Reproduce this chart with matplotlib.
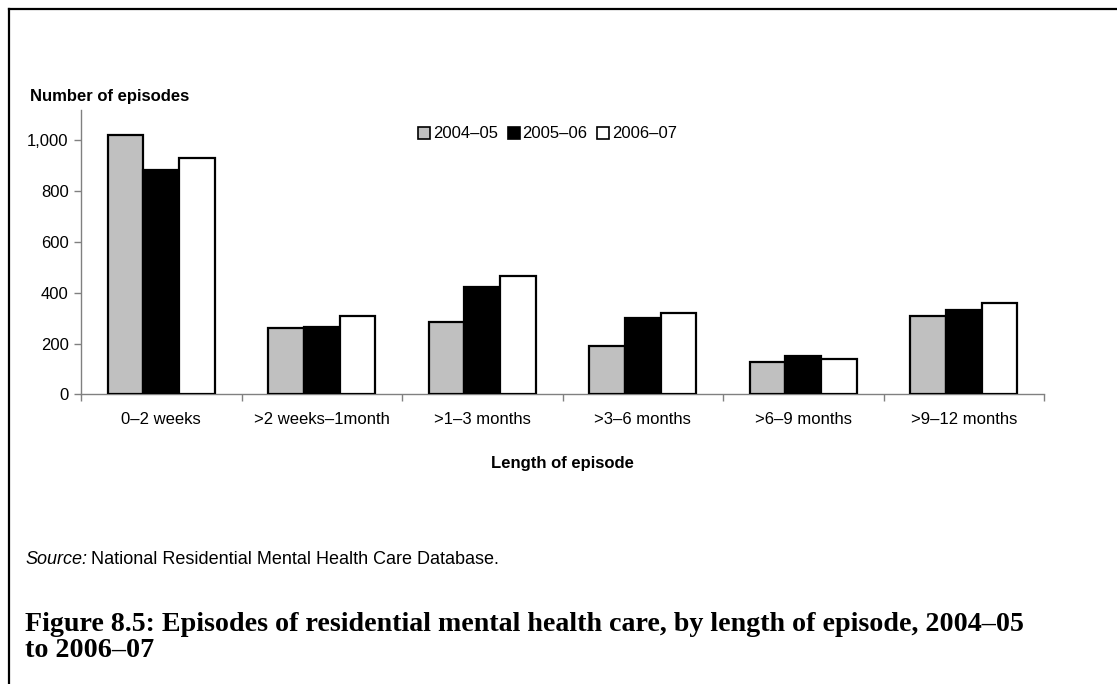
import numpy as np
import matplotlib
matplotlib.use("Agg")
import matplotlib.pyplot as plt
from matplotlib.lines import Line2D
from matplotlib.patches import Patch

categories = ["0\u20132 weeks", ">2 weeks\u20131month", ">1\u20133 months",
              ">3\u20136 months", ">6\u20139 months", ">9\u201312 months"]
years = ["2004\u201305", "2005\u201306", "2006\u201307"]
v_2004_05 = [1020, 260, 284, 192, 126, 310]
v_2005_06 = [883, 264, 421, 302, 149, 333]
v_2006_07 = [929, 309, 468, 320, 140, 360]
yticks = [0, 200, 400, 600, 800, 1000]

series = [v_2004_05, v_2005_06, v_2006_07]
colors = ["#c0c0c0", "#000000", "#ffffff"]

plt.rcParams["font.family"] = ["Liberation Sans", "DejaVu Sans"]

W, H = 1117, 684
fig = plt.figure(figsize=(W / 100, H / 100), dpi=100)
ax = fig.add_axes([81 / W, 1 - 394.3 / H, (1044 - 81) / W, (394.3 - 110) / H])

n = len(categories)
x = np.arange(n)
bw = 0.667 / 3
for i, (vals, c) in enumerate(zip(series, colors)):
    ax.bar(x + (i - 1) * bw, vals, width=bw, color=c, edgecolor="black",
           linewidth=1.6, zorder=3, label=years[i])

ax.set_xlim(-0.5, n - 0.5)
ax.set_ylim(0, 1120)
ax.set_yticks(yticks)
ax.set_yticklabels([f"{t:,}" for t in yticks], fontsize=12)

# category labels centred, tick marks at the group boundaries
ax.set_xticks(x)
ax.set_xticklabels(categories, fontsize=12)
ax.tick_params(axis="x", length=0, pad=12.5)
ax.set_xticks(np.arange(n + 1) - 0.5, minor=True)
ax.tick_params(axis="x", which="minor", length=5, color="#808080", width=1)
ax.tick_params(axis="y", length=5, color="#808080", width=1, pad=4)

for s in ["top", "right"]:
    ax.spines[s].set_visible(False)
for s in ["left", "bottom"]:
    ax.spines[s].set_color("#808080")
    ax.spines[s].set_linewidth(1)

ax.set_xlabel("Length of episode", fontsize=12, fontweight="bold", labelpad=21)

handles = [Patch(facecolor=c, edgecolor="black", linewidth=1.2) for c in colors]
leg = ax.legend(handles, years, loc="center", ncol=3, frameon=False, fontsize=12,
                handlelength=0.72, handleheight=0.72, handletextpad=0.15,
                columnspacing=0.6, borderaxespad=0, borderpad=0,
                bbox_to_anchor=((547.5 - 81) / (1044 - 81), (394.3 - 134) / (394.3 - 110)))

fig.text(30 / W, 1 - 96 / H, "Number of episodes", fontsize=12,
         fontweight="bold", va="center", ha="left")

src_y = 1 - 560 / H
t1 = fig.text(25 / W, src_y, "Source:", fontsize=13, style="italic",
              va="center", ha="left")
fig.canvas.draw()
bb = t1.get_window_extent()
fig.text((bb.x1 + 4) / W, src_y, "National Residential Mental Health Care Database.",
         fontsize=13, va="center", ha="left")

serif = ["Liberation Serif", "DejaVu Serif"]
fig.text(25 / W, 1 - 631 / H,
         "Figure 8.5: Episodes of residential mental health care, by length of episode, 2004\u201305",
         fontsize=20.2, fontweight="bold", family=serif, va="baseline", ha="left")
fig.text(25 / W, 1 - 657 / H, "to 2006\u201307",
         fontsize=20.2, fontweight="bold", family=serif, va="baseline", ha="left")

# frame lines along the top and left edge of the page
fig.add_artist(Line2D([9 / W, 1.0], [1 - 9 / H, 1 - 9 / H],
                      transform=fig.transFigure, color="black", linewidth=1.6))
fig.add_artist(Line2D([9 / W, 9 / W], [1 - 9 / H, 0.0],
                      transform=fig.transFigure, color="black", linewidth=1.6))

fig.savefig("out.png", dpi=100)
